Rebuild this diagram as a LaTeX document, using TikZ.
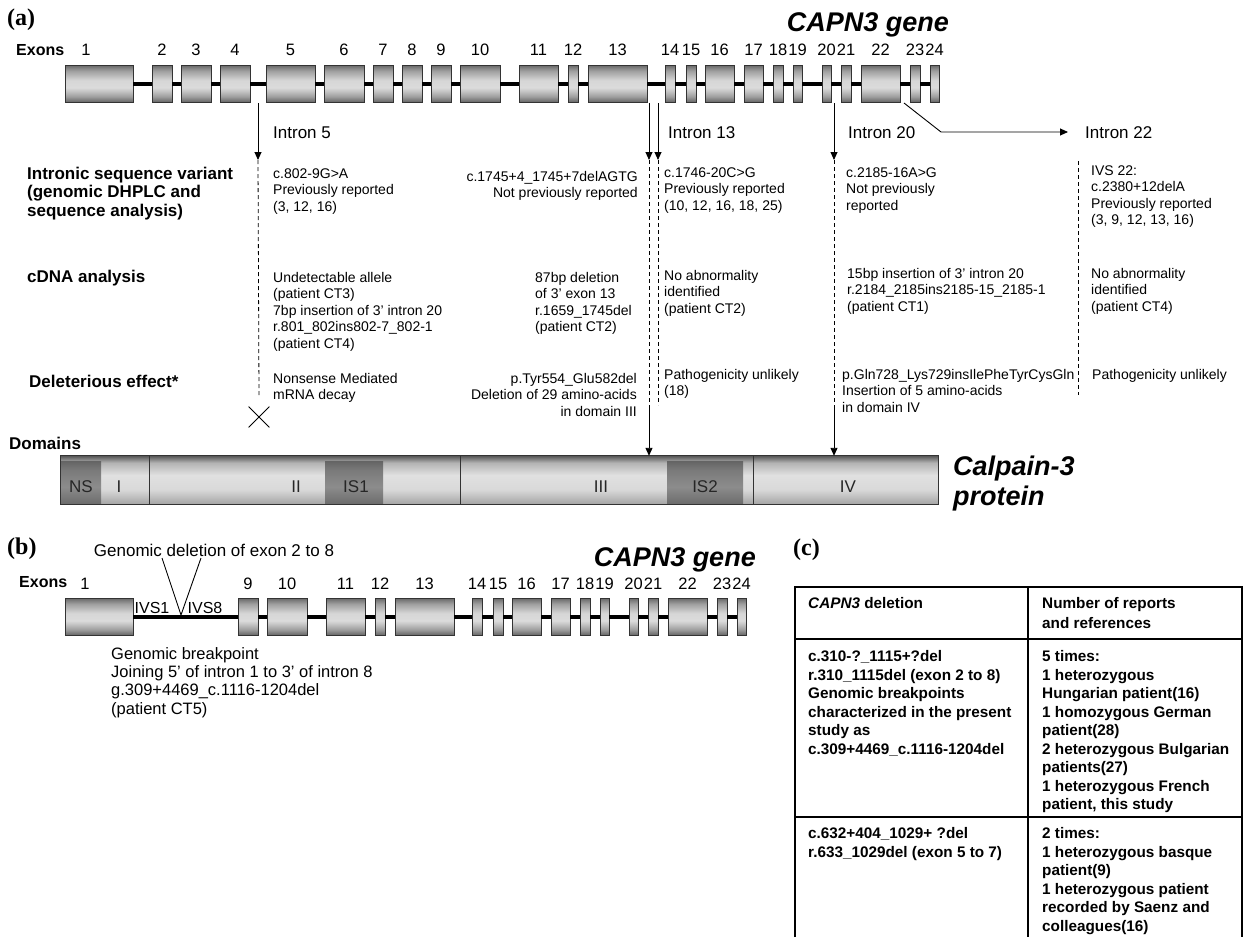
\documentclass[tikz,border=0pt]{standalone}
\usepackage{fontspec}
\setmainfont{Liberation Sans}
\newfontfamily\panelfont{Liberation Serif}
\usetikzlibrary{arrows.meta,shapes.misc}

\newcommand\setfs[2]{\fontsize{#1}{#2}\selectfont}

\pgfdeclareverticalshading{exonshade}{100bp}{color(0bp)=(black!62); color(25bp)=(black!62); color(33bp)=(black!38); color(45bp)=(black!14); color(55bp)=(black!16); color(68bp)=(black!38); color(75bp)=(black!58); color(100bp)=(black!58)}
\pgfdeclareverticalshading{domshade}{100bp}{color(0bp)=(black!35); color(25bp)=(black!35); color(40bp)=(black!15); color(55bp)=(black!12); color(68bp)=(black!30); color(75bp)=(black!65); color(100bp)=(black!65)}
\pgfdeclareverticalshading{insshade}{100bp}{color(0bp)=(black!58); color(25bp)=(black!58); color(45bp)=(black!45); color(65bp)=(black!52); color(75bp)=(black!60); color(100bp)=(black!60)}

\def\exonlist{1/65/133, 2/152/172, 3/181/211, 4/220/250, 5/266/315, 6/324/364, 7/373/393, 8/402/422, 9/431/451, 10/460/500, 11/519/558, 12/568/578, 13/588/647, 14/665/675, 15/686/696, 16/705/734, 17/744/763, 18/773/783, 19/793/802, 20/822/831, 21/841/851, 22/861/900, 23/910/920, 24/930/939}

\begin{document}
\begin{tikzpicture}[x=1pt, y=-1pt,
  exon/.style={draw=black!80, line width=0.9pt, shade, shading=exonshade, minimum height=37pt, inner sep=0pt, outer sep=0pt},
  intron/.style={line width=4pt},
  enum/.style={font=\setfs{16.5}{18}, inner sep=0pt},
  exonslab/.style={font=\bfseries\setfs{16}{18}, anchor=west, inner sep=0pt},
  arr/.style={line width=0.9pt, -{Triangle[length=8pt,width=7pt]}},
  guide/.style={line width=0.8pt, dash pattern=on 4pt off 3pt},
  rowhead/.style={font=\bfseries\setfs{17}{18.5}, align=left, anchor=base west, inner sep=0pt},
  note/.style={font=\setfs{14}{16.6}, align=left, anchor=base west, inner sep=0pt},
  noter/.style={note, align=right, anchor=base east},
  introntext/.style={font=\setfs{17}{19}, anchor=west, inner sep=0pt},
  genetitle/.style={font=\bfseries\itshape\setfs{27}{30}, inner sep=0pt},
  panel/.style={font=\panelfont\bfseries\setfs{24}{26}, anchor=west, inner sep=0pt},
  domlab/.style={font=\setfs{17}{18}, inner sep=0pt, text=black!85},
  tabtext/.style={font=\bfseries\setfs{15.3}{18.5}, align=left, anchor=base west, inner sep=0pt}]

  \useasboundingbox[fill=white] (0,0) rectangle (1244,937);

  % (a) gene
  \node[panel] (pa) at (7,20) {(a)};
  \node[genetitle, anchor=east] (ga) at (949,25) {CAPN3 gene};
  \node[exonslab] (exa) at (16,50) {Exons};

  \foreach \e/\xa/\xb in \exonlist {
    \pgfmathsetmacro\lx{\e==1 ? 86 : (\xa+\xb)/2}
    \node[exon, minimum width={\xb-\xa}] (a\e) at ({(\xa+\xb)/2},84) {};
    \node[enum] (an\e) at (\lx,50) {\e};
  }
  \foreach \e [count=\f from 2] in {1,...,23}
    \draw[intron] (a\e.east) -- (a\f.west);

  % introns
  \coordinate (i5a) at (258,103);  \coordinate (i5b) at (258,160);
  \coordinate (i13a) at (649,103); \coordinate (i13b) at (649,160);
  \coordinate (i13c) at (658,103); \coordinate (i13d) at (658,160);
  \coordinate (i20a) at (834,103); \coordinate (i20b) at (834,160);
  \coordinate (i22a) at (904,103); \coordinate (i22b) at (941,132);
  \coordinate (i22c) at (1068,132);

  \draw[arr] (i5a) -- (i5b);
  \draw[arr] (i13a) -- (i13b);
  \draw[arr] (i13c) -- (i13d);
  \draw[arr] (i20a) -- (i20b);
  \draw[arr] (i22a) -- (i22b) -- (i22c);

  \node[introntext] (i5lab) at (273,133) {Intron 5};
  \node[introntext] (i13lab) at (668,133) {Intron 13};
  \node[introntext] (i20lab) at (848,133) {Intron 20};
  \node[introntext] (i22lab) at (1085,133) {Intron 22};

  % rows (base = last line)
  \node[rowhead] (h1) at (27,216) {Intronic sequence variant\\(genomic DHPLC and\\sequence analysis)};
  \node[rowhead, anchor=west] (h2) at (27,278) {cDNA analysis};
  \node[rowhead, anchor=west] (h3) at (29,381) {Deleterious effect*};

  \node[note] (v5) at (273,211.2) {c.802-9G>A\\Previously reported\\(3, 12, 16)};
  \node[noter] (v13a) at (638,197.6) {c.1745+4\_1745+7delAGTG\\Not previously reported};
  \node[note] (v13b) at (664,210.2) {c.1746-20C>G\\Previously reported\\(10, 12, 16, 18, 25)};
  \node[note] (v20) at (846,210.2) {c.2185-16A>G\\Not previously\\reported};
  \node[note] (v22) at (1091,224.8) {IVS 22:\\c.2380+12delA\\Previously reported\\(3, 9, 12, 13, 16)};

  \node[note] (c5) at (273,348.4) {Undetectable allele\\(patient CT3)\\7bp insertion of 3' intron 20\\r.801\_802ins802-7\_802-1\\(patient CT4)};
  \node[note] (c13a) at (535,331.8) {87bp deletion\\of 3' exon 13\\r.1659\_1745del\\(patient CT2)};
  \node[note] (c13b) at (664,313.2) {No abnormality\\identified\\(patient CT2)};
  \node[note] (c20) at (847,311.2) {15bp insertion of 3' intron 20\\r.2184\_2185ins2185-15\_2185-1\\(patient CT1)};
  \node[note] (c22) at (1091,311.2) {No abnormality\\identified\\(patient CT4)};

  \node[note] (d5) at (273,399.6) {Nonsense Mediated\\mRNA decay};
  \node[noter] (d13a) at (637,416.2) {p.Tyr554\_Glu582del\\Deletion of 29 amino-acids\\in domain III};
  \node[note] (d13b) at (664,395.6) {Pathogenicity unlikely\\(18)};
  \node[note] (d20) at (842,412.2) {p.Gln728\_Lys729insIlePheTyrCysGln\\Insertion of 5 amino-acids\\in domain IV};
  \node[note] (d22) at (1092,379) {Pathogenicity unlikely};

  % protein
  \node[rowhead, anchor=west] (dl) at (9,443) {Domains};
  \node[shade, shading=domshade, minimum width=877pt, minimum height=48pt, inner sep=0pt] (dom) at (499.5,480) {};
  \node[shade, shading=insshade, minimum width=40pt, minimum height=42pt, inner sep=0pt, anchor=south west] (ns) at (61,504) {};
  \node[shade, shading=insshade, minimum width=58pt, minimum height=42pt, inner sep=0pt, anchor=south west] (is1) at (325,504) {};
  \node[shade, shading=insshade, minimum width=76pt, minimum height=42pt, inner sep=0pt, anchor=south west] (is2) at (667,504) {};
  \draw[line width=1pt, black!80] (dom.north west) rectangle (dom.south east);
  \foreach \x in {149,460,753}
    \draw[line width=0.9pt, black!80] (\x,456) -- (\x,504);

  \node[domlab] at (81,487) {NS};
  \node[domlab] at (119,487) {I};
  \node[domlab] at (296,487) {II};
  \node[domlab] at (356,487) {IS1};
  \node[domlab] at (601,487) {III};
  \node[domlab] at (705,487) {IS2};
  \node[domlab] at (848,487) {IV};
  \node[genetitle, align=left, anchor=base west] (prot) at (953,505) {Calpain-3\\protein};

  \node[draw, cross out, minimum size=20pt, line width=0.8pt] (nmd) at (259,417) {};
  \coordinate (g13a) at (649,405); \coordinate (g13b) at (658,405);
  \coordinate (g20) at (834,405);  \coordinate (g22a) at (1078,161);
  \coordinate (g22b) at (1078,395);

  \draw[guide] (i5b) -- ([yshift=10pt]nmd.north);
  \draw[guide] (i13b) -- (g13a);
  \draw[guide] (i13d) -- (g13b);
  \draw[guide] (i20b) -- (g20);
  \draw[guide] (g22a) -- (g22b);
  \draw[arr] (g13a) -- (dom.north -| g13a);
  \draw[arr] (g20) -- (dom.north -| g20);

  % (b) gene
  \node[panel] (pb) at (7,549) {(b)};
  \node[font=\setfs{17}{19}, inner sep=0pt] (gdel) at (214,550) {Genomic deletion of exon 2 to 8};
  \node[genetitle, anchor=east] (gb) at (756,560) {CAPN3 gene};
  \node[exonslab] (exb) at (19,582) {Exons};

  \node[exon, minimum width=68pt] (b1) at (99,617) {};
  \node[enum] (bn1) at (85,584) {1};
  \foreach \e/\xa/\xb in \exonlist {
    \ifnum\e>8
      \node[exon, minimum width={\xb-\xa}] (b\e) at ({(\xa+\xb)/2-193},617) {};
      \node[enum] (bn\e) at ({(\xa+\xb)/2-193},584) {\e};
    \fi
  }
  \draw[intron] (b1.east) -- (b9.west);
  \foreach \e [count=\f from 10] in {9,...,23}
    \draw[intron] (b\e.east) -- (b\f.west);

  \coordinate (vl) at (162,558); \coordinate (vr) at (201,558);
  \coordinate (vt) at (181,615);
  \draw[line width=0.9pt] (vl) -- (vt) -- (vr);
  \node[font=\setfs{16}{18}, inner sep=0pt] (ivs1) at (152,608) {IVS1};
  \node[font=\setfs{16}{18}, inner sep=0pt] (ivs8) at (205,608) {IVS8};

  \node[note, font=\setfs{16.5}{18.3}] (bp) at (111,714) {Genomic breakpoint\\Joining 5' of intron 1 to 3' of intron 8\\g.309+4469\_c.1116-1204del\\(patient CT5)};

  % (c) table
  \node[panel] (pc) at (793,550) {(c)};
  \draw[line width=1.3pt] (795,937) |- (1242,587) -- (1242,937);
  \draw[line width=1.3pt] (795,639) -- (1242,639);
  \draw[line width=1.3pt] (795,817) -- (1242,817);
  \draw[line width=1.3pt] (1028,587) -- (1028,937);

  \node[tabtext] (t11) at (808,608.5) {\textit{CAPN3} deletion};
  \node[tabtext, font=\bfseries\setfs{15.3}{20}] (t12) at (1042,628.5) {Number of reports\\and references};
  \node[tabtext] (t21) at (808,754) {c.310-?\_1115+?del\\r.310\_1115del (exon 2 to 8)\\Genomic breakpoints\\characterized in the present\\study as\\c.309+4469\_c.1116-1204del};
  \node[tabtext] (t22) at (1042,809.5) {5 times:\\1 heterozygous\\Hungarian patient(16)\\1 homozygous German\\patient(28)\\2 heterozygous Bulgarian\\patients(27)\\1 heterozygous French\\patient, this study};
  \node[tabtext] (t31) at (808,857) {c.632+404\_1029+ ?del\\r.633\_1029del (exon 5 to 7)};
  \node[tabtext] (t32) at (1042,931) {2 times:\\1 heterozygous basque\\patient(9)\\1 heterozygous patient\\recorded by Saenz and\\colleagues(16)};

\end{tikzpicture}
\end{document}
